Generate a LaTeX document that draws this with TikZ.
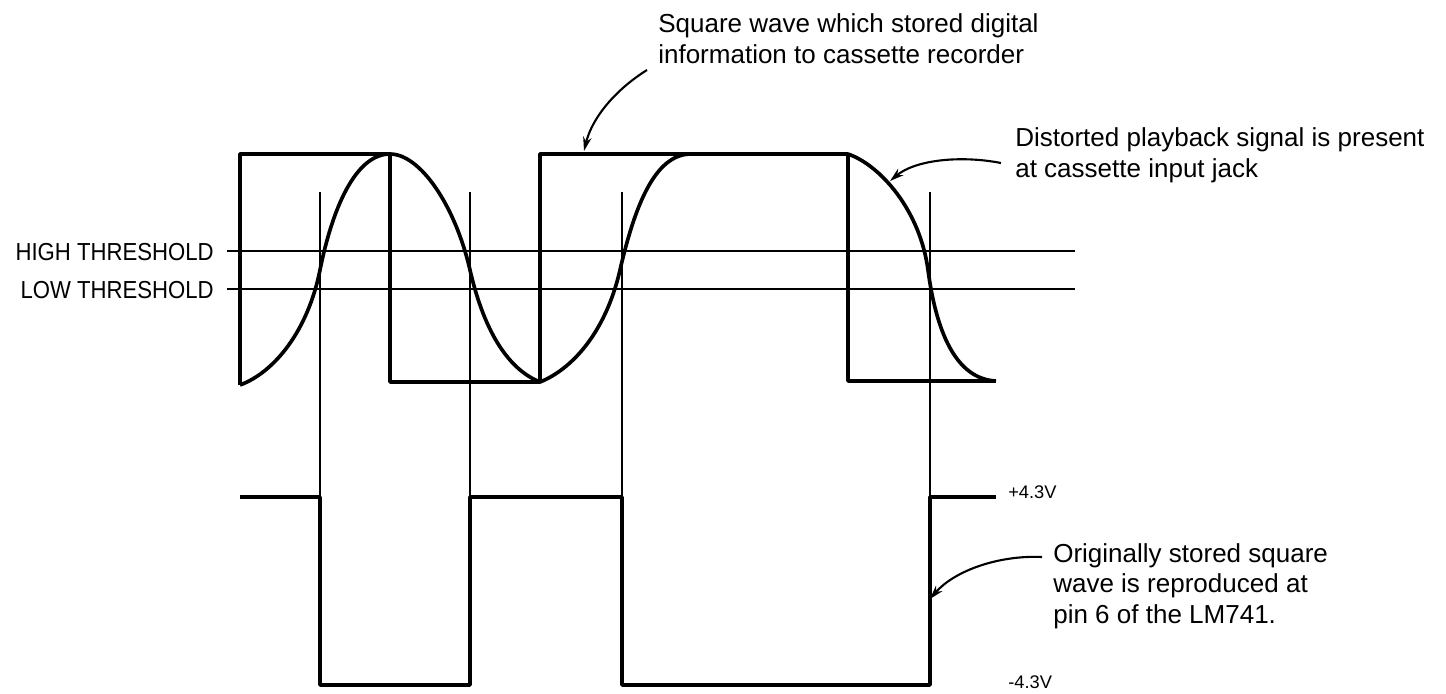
\documentclass[tikz,border=0pt]{standalone}
\usepackage{fontspec}
\setmainfont{Liberation Sans}
\newfontfamily\capsfont{Liberation Sans}[FakeStretch=0.9]
\usepackage{tikz}
\usetikzlibrary{arrows.meta,positioning}
\tikzset{
  wave/.style={line width=2.6pt, line join=round},
  guide/.style={line width=1.1pt},
  callout/.style={line width=1.5pt, -{Stealth[length=10pt, width=6pt]}},
  note/.style={inner sep=0pt, anchor=base west, align=left,
               font=\fontsize{18.5}{21.5}\selectfont},
  level/.style={inner sep=0pt, anchor=base west, font=\fontsize{13}{15}\selectfont},
  thr/.style={inner sep=0pt, anchor=east, font=\capsfont\fontsize{17.5}{20}\selectfont},
}
\begin{document}
\begin{tikzpicture}[x=0.025cm, y=-0.025cm]
\useasboundingbox (0,0) rectangle (1446,693);

% --- threshold lines ---
\draw[guide] (227,251) -- (1075,251);
\draw[guide] (227,289) -- (1075,289);
\node[thr] (highthr) at (214,252) {HIGH THRESHOLD};
\node[thr] (lowthr) at (214,290) {LOW THRESHOLD};

% --- switching instants ---
\foreach \xx in {320,470,622,930}
  \draw[guide] (\xx,192) -- (\xx,497);

% --- stored square wave ---
\draw[wave] (240,385) -- (240,154) -- (390,154) -- (390,382) -- (540,382)
  -- (540,154) -- (848,154) -- (848,381) -- (996,381);

% --- distorted playback signal ---
\draw[wave] (240,385) .. controls (275,372) and (308,330) .. (320,270)
  .. controls (332,210) and (355,154) .. (390,154)
  .. controls (420,154) and (455,205) .. (470,270)
  .. controls (485,335) and (510,370) .. (540,382)
  .. controls (570,370) and (605,335) .. (620,270)
  .. controls (635,205) and (655,155) .. (690,154);
\draw[wave] (848,154) .. controls (880,165) and (920,210) .. (928,270)
  .. controls (936,330) and (955,379) .. (996,381);

% --- reproduced square wave ---
\draw[wave] (240,497) -- (320,497) -- (320,685) -- (470,685) -- (470,497)
  -- (622,497) -- (622,685) -- (930,685) -- (930,497) -- (996,497);
\node[level] (vplus) at (1008,498) {+4.3V};
\node[level] (vminus) at (1008,688) {-4.3V};

% --- notes (placed by their last baseline) ---
\node[note] (sqnote) at (658,63) {Square wave which stored digital\\information to cassette recorder};
\node[note] (distnote) at (1015,177) {Distorted playback signal is present\\at cassette input jack};
\node[note] (orignote) at (1053,623) {Originally stored square\\wave is reproduced at\\pin 6 of the LM741.};

\coordinate (sqtail) at (647,70);
\coordinate (sqtip) at (584,151);
\coordinate (disttail) at (1001,163);
\coordinate (disttip) at (890,181);
\coordinate (origtail) at (1042,557);
\coordinate (origtip) at (930,599);

\draw[callout] (sqtail) .. controls (615,90) and (592,118) .. (sqtip);
\draw[callout] (disttail) .. controls (960,155) and (915,160) .. (disttip);
\draw[callout] (origtail) .. controls (1000,555) and (955,570) .. (origtip);

\end{tikzpicture}
\end{document}
